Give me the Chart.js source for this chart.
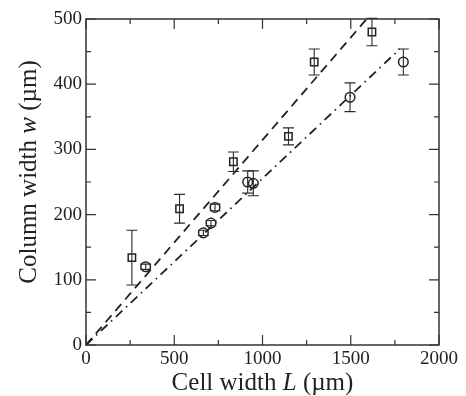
<!DOCTYPE html>
<html>
<head>
<meta charset="utf-8">
<script src="https://cdn.jsdelivr.net/npm/chart.js@4.4.1/dist/chart.umd.min.js"></script>
<style>
  html, body { margin: 0; padding: 0; background: #fff; }
  #wrap { width: 466px; height: 396px; }
</style>
</head>
<body>
<div id="wrap"><canvas id="c" width="466" height="396"></canvas></div>
<script>
// ---- data ----
const squareL = [260, 530, 835, 1147, 1293, 1620];
const squareW = [134, 209, 281, 320, 434, 480];
const squareErr = [42, 22, 15, 13, 20, 21];

const circleL = [338, 665, 708, 731, 916, 948, 1496, 1798];
const circleW = [120, 172, 187, 211, 250, 248, 380, 434];
const circleErr = [4, 4, 4, 5, 17, 19, 22, 20];

const dashedL = [0, 1590];
const dashedW = [0, 500];
const dashDotL = [0, 1778];
const dashDotW = [0, 454];

const xTicks = [0, 500, 1000, 1500, 2000];
const yTicks = [0, 100, 200, 300, 400, 500];
const xMinorTicks = [250, 750, 1250, 1750];
const yMinorTicks = [50, 150, 250, 350, 450];

const xTitle = ["Cell width ", "L", " (\u00b5m)"];
const yTitle = ["Column width ", "w", " (\u00b5m)"];

const FONT = "'Liberation Serif', 'Times New Roman', serif";
const INK = '#222';

const toPts = (xs, ys) => xs.map((x, i) => ({ x: x, y: ys[i] }));

const errorBars = {
  id: 'errorBars',
  afterDatasetsDraw(chart) {
    const ctx = chart.ctx;
    const xs = chart.scales.x, ys = chart.scales.y;
    ctx.save();
    ctx.strokeStyle = '#2a2a2a';
    ctx.lineWidth = 1.1;
    const draw = (L, W, E) => {
      L.forEach((l, i) => {
        const px = xs.getPixelForValue(l);
        const top = ys.getPixelForValue(W[i] + E[i]);
        const bot = ys.getPixelForValue(W[i] - E[i]);
        ctx.beginPath();
        ctx.moveTo(px, top); ctx.lineTo(px, bot);
        ctx.moveTo(px - 5.5, top); ctx.lineTo(px + 5.5, top);
        ctx.moveTo(px - 5.5, bot); ctx.lineTo(px + 5.5, bot);
        ctx.stroke();
      });
    };
    draw(squareL, squareW, squareErr);
    draw(circleL, circleW, circleErr);
    ctx.restore();
  }
};

const frameAndTicks = {
  id: 'frameAndTicks',
  afterDraw(chart) {
    const ctx = chart.ctx;
    const a = chart.chartArea;
    const xs = chart.scales.x, ys = chart.scales.y;
    ctx.save();
    ctx.strokeStyle = '#333';
    ctx.lineWidth = 1.5;
    ctx.strokeRect(a.left, a.top, a.right - a.left, a.bottom - a.top);
    ctx.lineWidth = 1.2;
    ctx.beginPath();
    const xt = (v, len) => {
      const p = xs.getPixelForValue(v);
      ctx.moveTo(p, a.bottom); ctx.lineTo(p, a.bottom - len);
      ctx.moveTo(p, a.top); ctx.lineTo(p, a.top + len);
    };
    const yt = (v, len) => {
      const p = ys.getPixelForValue(v);
      ctx.moveTo(a.left, p); ctx.lineTo(a.left + len, p);
      ctx.moveTo(a.right, p); ctx.lineTo(a.right - len, p);
    };
    xTicks.forEach(v => xt(v, 10));
    xMinorTicks.forEach(v => xt(v, 5));
    yTicks.forEach(v => yt(v, 10));
    yMinorTicks.forEach(v => yt(v, 5));
    ctx.stroke();

    // axis titles with italic symbols
    const size = 25;
    const fonts = [`${size}px ${FONT}`, `italic ${size}px ${FONT}`, `${size}px ${FONT}`];
    const measure = parts => parts.map((t, i) => { ctx.font = fonts[i]; return ctx.measureText(t).width; });
    ctx.fillStyle = INK;
    ctx.textBaseline = 'alphabetic';
    ctx.textAlign = 'left';
    // x title
    let wx = measure(xTitle);
    let total = wx.reduce((s, v) => s + v, 0);
    let cx = (a.left + a.right) / 2 - total / 2;
    xTitle.forEach((t, i) => { ctx.font = fonts[i]; ctx.fillText(t, cx, 390); cx += wx[i]; });
    // y title (rotated)
    let wy = measure(yTitle);
    total = wy.reduce((s, v) => s + v, 0);
    ctx.translate(36, 172);
    ctx.rotate(-Math.PI / 2);
    let cy = -total / 2;
    yTitle.forEach((t, i) => { ctx.font = fonts[i]; ctx.fillText(t, cy, 0); cy += wy[i]; });
    ctx.restore();
  }
};

new Chart(document.getElementById('c'), {
  type: 'scatter',
  data: {
    datasets: [
      {
        data: toPts(dashedL, dashedW), showLine: true, borderColor: INK, borderWidth: 1.8,
        borderDash: [9, 6], pointRadius: 0, fill: false
      },
      {
        data: toPts(dashDotL, dashDotW), showLine: true, borderColor: INK, borderWidth: 1.8,
        borderDash: [9, 5, 1.5, 5], pointRadius: 0, fill: false
      },
      {
        data: toPts(squareL, squareW), pointStyle: 'rect', pointRadius: 5.2,
        borderColor: INK, backgroundColor: 'rgba(0,0,0,0)', borderWidth: 1.5
      },
      {
        data: toPts(circleL, circleW), pointStyle: 'circle', pointRadius: 4.8,
        borderColor: INK, backgroundColor: 'rgba(0,0,0,0)', borderWidth: 1.5
      }
    ]
  },
  options: {
    responsive: false,
    animation: false,
    events: [],
    layout: { padding: { top: 19, right: 27, left: 0, bottom: 0 } },
    plugins: { legend: { display: false }, tooltip: { enabled: false } },
    scales: {
      x: {
        type: 'linear', min: 0, max: 2000,
        afterBuildTicks: s => { s.ticks = xTicks.map(v => ({ value: v })); },
        grid: { display: false, drawTicks: false },
        border: { display: false },
        ticks: { color: INK, font: { family: FONT, size: 19 }, padding: 3, maxRotation: 0,
                 callback: v => String(v) },
        afterFit: s => { s.height = 51; }
      },
      y: {
        type: 'linear', min: 0, max: 500,
        afterBuildTicks: s => { s.ticks = yTicks.map(v => ({ value: v })); },
        grid: { display: false, drawTicks: false },
        border: { display: false },
        ticks: { color: INK, font: { family: FONT, size: 19 }, padding: 4,
                 callback: v => String(v) },
        afterFit: s => { s.width = 86; }
      }
    }
  },
  plugins: [errorBars, frameAndTicks]
});
</script>
</body>
</html>
